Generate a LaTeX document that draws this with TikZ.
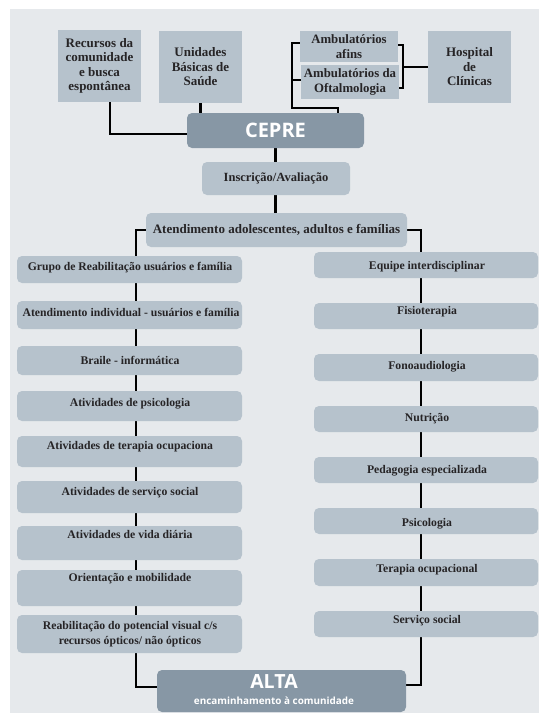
\documentclass[tikz,border=0pt]{standalone}
\usepackage{fontspec}
\setmainfont{Liberation Serif}
\newfontfamily\sansf{Open Sans}
\usetikzlibrary{calc}
\pgfdeclarelayer{bg}
\pgfdeclarelayer{lines}
\pgfsetlayers{bg,lines,main}
\definecolor{pagebg}{HTML}{E6E9EC}
\definecolor{boxc}{HTML}{B6C2CC}
\definecolor{darkc}{HTML}{8797A5}
\definecolor{textc}{HTML}{262426}
\begin{document}
\begin{tikzpicture}[x=1pt,y=-1pt,
  sqbox/.style={rectangle, fill=boxc, inner sep=0pt, align=center, text=textc,
    font=\bfseries\fontsize{13}{14.5}\selectfont},
  rbox/.style={rectangle, rounded corners=5pt, fill=boxc, inner sep=0pt, align=center, text=textc,
    font=\bfseries\fontsize{12.5}{14}\selectfont},
  cbox/.style={rectangle, rounded corners=5pt, fill=boxc, inner sep=0pt},
  dbox/.style={rectangle, rounded corners=5pt, fill=darkc, inner sep=0pt},
  txt/.style={inner sep=0pt, text=textc, anchor=base, align=center,
    font=\bfseries\fontsize{11.7}{15}\selectfont},
  conn/.style={line width=2.2pt, draw=black, line cap=rect}]
\useasboundingbox (0,0) rectangle (539,723);
\begin{pgfonlayer}{bg}
  \fill[pagebg] (10,9) rectangle (539,713);
\end{pgfonlayer}

% top boxes
\node[sqbox, minimum width=83pt, minimum height=72pt] (rec) at (99.5,66) {Recursos da\\comunidade\\e busca\\espontânea};
\node[sqbox, minimum width=83pt, minimum height=72pt] (ubs) at (200.5,67) {Unidades\\Básicas de\\Saúde};
\node[sqbox, minimum width=98pt, minimum height=31pt, font=\bfseries\fontsize{12.8}{15.5}\selectfont] (afins) at (349,46.5) {Ambulatórios\\afins};
\node[sqbox, minimum width=98pt, minimum height=34pt, font=\bfseries\fontsize{12.8}{15.5}\selectfont] (oft) at (350,82) {Ambulatórios da\\Oftalmologia};
\node[sqbox, minimum width=83pt, minimum height=72pt] (hc) at (469.5,67) {Hospital\\de\\Clínicas};

\node[dbox, minimum width=177pt, minimum height=35pt, text=white, font=\sansf\bfseries\fontsize{20}{22}\selectfont] (cepre) at (275.5,130.5) {CEPRE};
\node[rbox, minimum width=148pt, minimum height=33pt] (insc) at (276,178.5) {Inscrição/Avaliação};
\node[rbox, minimum width=261pt, minimum height=34pt, font=\bfseries\fontsize{13}{15}\selectfont] (atend) at (276.5,230) {Atendimento adolescentes, adultos e famílias};

% left column
\node[cbox, minimum width=225pt, minimum height=27pt] (l1) at (129.5,269.5) {};
\node[txt] (l1t) at (130,270.5) {Grupo de Reabilitação usuários e família};
\node[cbox, minimum width=225pt, minimum height=28pt] (l2) at (129.5,315) {};
\node[txt] (l2t) at (131,316.5) {Atendimento individual - usuários e família};
\node[cbox, minimum width=225pt, minimum height=29pt] (l3) at (129.5,360.5) {};
\node[txt] (l3t) at (130,364.5) {Braile - informática};
\node[cbox, minimum width=225pt, minimum height=30pt] (l4) at (129.5,406) {};
\node[txt] (l4t) at (130,406.5) {Atividades de psicologia};
\node[cbox, minimum width=225pt, minimum height=31pt] (l5) at (129.5,451.5) {};
\node[txt] (l5t) at (130,449.5) {Atividades de terapia ocupaciona};
\node[cbox, minimum width=225pt, minimum height=32pt] (l6) at (129.5,497) {};
\node[txt] (l6t) at (130,495.5) {Atividades de serviço social};
\node[cbox, minimum width=225pt, minimum height=34pt] (l7) at (129.5,543) {};
\node[txt] (l7t) at (130,538.5) {Atividades de vida diária};
\node[cbox, minimum width=225pt, minimum height=36pt] (l8) at (129.5,588) {};
\node[txt] (l8t) at (130,581.5) {Orientação e mobilidade};
\node[cbox, minimum width=225pt, minimum height=38pt] (l9) at (129.5,634) {};
\node[txt, anchor=center] (l9t) at (130,634.5) {Reabilitação do potencial visual c/s\\recursos ópticos/ não ópticos};

% right column
\node[cbox, minimum width=224pt, minimum height=26pt] (r1) at (426,265) {};
\node[txt] (r1t) at (427,269.5) {Equipe interdisciplinar};
\node[cbox, minimum width=224pt, minimum height=26pt] (r2) at (426,316) {};
\node[txt] (r2t) at (427,314.5) {Fisioterapia};
\node[cbox, minimum width=224pt, minimum height=27pt] (r3) at (426,367.5) {};
\node[txt] (r3t) at (427,369.5) {Fonoaudiologia};
\node[cbox, minimum width=224pt, minimum height=26pt] (r4) at (426,419) {};
\node[txt] (r4t) at (427,421.5) {Nutrição};
\node[cbox, minimum width=224pt, minimum height=26pt] (r5) at (426,470) {};
\node[txt] (r5t) at (427,473.5) {Pedagogia especializada};
\node[cbox, minimum width=224pt, minimum height=26pt] (r6) at (426,521) {};
\node[txt] (r6t) at (427,526.5) {Psicologia};
\node[cbox, minimum width=224pt, minimum height=27pt] (r7) at (426,572.5) {};
\node[txt] (r7t) at (427,572.5) {Terapia ocupacional};
\node[cbox, minimum width=224pt, minimum height=26pt] (r8) at (426,624) {};
\node[txt] (r8t) at (427,623.5) {Serviço social};

% ALTA
\node[dbox, minimum width=249pt, minimum height=42pt] (alta) at (281.5,691) {};
\node[inner sep=0pt, text=white, font=\sansf\bfseries\fontsize{19.5}{21}\selectfont] (altat) at (274,682) {ALTA};
\node[inner sep=0pt, text=white, font=\sansf\bfseries\fontsize{9.9}{11}\selectfont] (altas) at (274,701) {encaminhamento à comunidade};

\begin{pgfonlayer}{lines}
  \draw[conn] ($(rec.south)+(10.5,0)$) |- ($(cepre.west)+(0,3.5)$);
  \draw[conn] (ubs.south) -- (ubs.south |- cepre.north);
  \draw[conn] ($(afins.west)+(0,-3.5)$) -- ++(-8,0) |- ($(cepre.north)+(62.5,-5)$) -- ($(cepre.north)+(62.5,0)$);
  \draw[conn] ($(oft.west)+(0,-2)$) -- ++(-9,0);
  \draw[conn] ($(afins.east)+(0,-1.5)$) -- ++(5,0) coordinate (bt) -- (bt |- {$(oft.east)+(0,6)$}) -- ($(oft.east)+(0,6)$);
  \draw[conn] (bt |- hc.west) -- (hc.west);
  \draw[conn] (cepre.south) -- (cepre.south |- insc.north);
  \draw[conn] (cepre.south |- insc.south) -- (cepre.south |- atend.north);
  \draw[conn] (atend.west) -- ++(-10,0) |- ($(alta.west)+(0,-4)$);
  \draw[conn] (atend.east) -- ++(14,0) |- ($(alta.east)+(0,-6)$);
\end{pgfonlayer}
\end{tikzpicture}
\end{document}
